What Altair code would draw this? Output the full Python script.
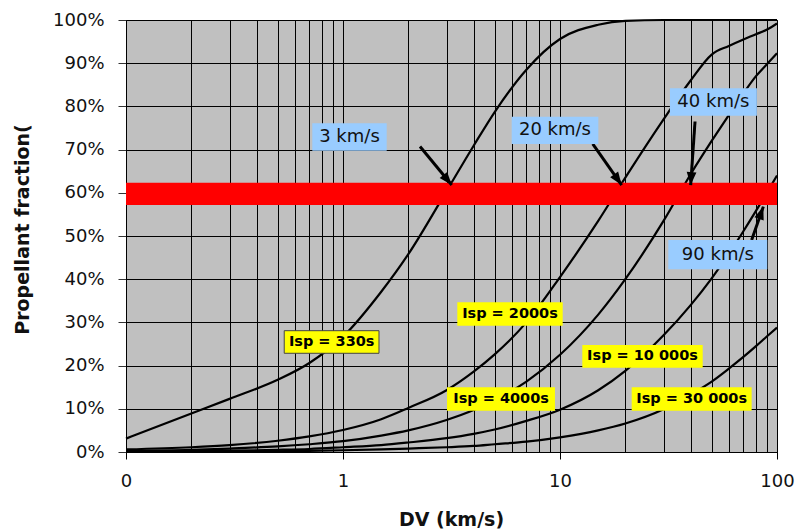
import altair as alt
import pandas as pd

# ---- data ----
DV = [0.1, 0.2, 0.3, 0.5, 0.7, 1, 1.5, 2, 3, 4, 5, 7, 10, 15, 20, 30, 40, 50, 60, 70, 80, 90, 100]
isp330 = [3.1, 8.9, 12.3, 16.7, 20.6, 26.7, 37.1, 45.8, 60.4, 70.9, 78.7, 88.5, 95.6, 98.9, 99.8, 100, 100, 100, 100, 100, 100, 100, 100]
isp2000 = [0.6, 1.1, 1.6, 2.6, 3.6, 5.1, 7.6, 10.2, 14.3, 18.6, 22.6, 30.0, 40.5, 53.5, 63.5, 77.0, 86.0, 92.0, 94.0, 95.5, 96.7, 97.8, 99.2]
isp4000 = [0.3, 0.5, 0.8, 1.3, 1.8, 2.5, 3.8, 5.0, 7.4, 9.7, 12.0, 16.3, 22.5, 31.8, 40.0, 53.5, 64.3, 72.0, 78.0, 83.0, 87.0, 89.8, 92.3]
isp10000 = [0.1, 0.2, 0.3, 0.5, 0.7, 1.1, 1.6, 2.2, 3.2, 4.2, 5.2, 7.2, 9.8, 14.3, 18.8, 27.0, 34.0, 40.2, 45.9, 51.1, 55.8, 60.1, 64.0]
isp30000 = [0.03, 0.07, 0.1, 0.17, 0.24, 0.4, 0.6, 0.8, 1.1, 1.4, 1.8, 2.4, 3.4, 5.0, 6.6, 9.9, 13.3, 16.3, 19.3, 22.0, 24.5, 26.8, 28.8]
series_names = ["330s", "2000s", "4000s", "10000s", "30000s"]

x_grid = [0.1, 0.2, 0.3, 0.4, 0.5, 0.6, 0.7, 0.8, 0.9, 1, 2, 3, 4, 5, 6, 7, 8, 9,
          10, 20, 30, 40, 50, 60, 70, 80, 90, 100]
y_ticks = [0, 10, 20, 30, 40, 50, 60, 70, 80, 90, 100]

# red target band (propellant fraction ~60 %)
band_lo, band_hi = 57.2, 62.3

# yellow Isp labels
isp_text = ["Isp = 330s", "Isp = 2000s", "Isp = 10 000s", "Isp = 4000s", "Isp = 30 000s"]
isp_xc = [0.887, 5.88, 24.0, 5.35, 40.45]
isp_yc = [25.46, 31.94, 22.15, 12.27, 12.27]
isp_x1 = [0.536, 3.363, 12.67, 3.015, 21.4]
isp_x2 = [1.465, 10.29, 45.46, 9.48, 76.4]
isp_y1 = [28.08, 34.65, 24.77, 14.98, 14.98]
isp_y2 = [22.85, 29.24, 19.51, 9.56, 9.56]
isp_border = [1, 0, 0, 0, 0]

# blue speed labels
v_text = ["3 km/s", "20 km/s", "40 km/s", "90 km/s"]
v_xc = [1.071, 9.48, 50.9, 53.4]
v_yc = [72.92, 74.47, 81.02, 45.67]
v_x1 = [0.722, 5.99, 32.1, 31.56]
v_x2 = [1.590, 15.02, 80.8, 90.2]
v_y1 = [76.09, 77.62, 84.19, 49.07]
v_y2 = [69.75, 71.30, 77.85, 42.29]

# arrows (start -> tip)
arr_x1 = [2.264, 14.15, 41.9, 76.4]
arr_y1 = [70.7, 71.3, 76.5, 49.1]
arr_x2 = [3.17, 19.24, 40.0, 86.5]
arr_y2 = [61.8, 61.8, 61.8, 56.8]
arr_angle = [140.4, 144.7, 184.0, 19.2]

# ---- tables ----
rows = []
for name, vals in zip(series_names, [isp330, isp2000, isp4000, isp10000, isp30000]):
    for d, v in zip(DV, vals):
        rows.append({"dv": d, "pct": v, "series": name})
curves_df = pd.DataFrame(rows)

band_df = pd.DataFrame({"dv": [0.1], "dv2": [100], "pct": [band_lo], "pct2": [band_hi]})
isp_df = pd.DataFrame({"text": isp_text, "dv": isp_x1, "dv2": isp_x2, "pct": isp_y1, "pct2": isp_y2,
                       "xc": isp_xc, "yc": isp_yc, "border": isp_border})
v_df = pd.DataFrame({"text": v_text, "dv": v_x1, "dv2": v_x2, "pct": v_y1, "pct2": v_y2,
                     "xc": v_xc, "yc": v_yc})
arr_df = pd.DataFrame({"dv": arr_x1, "pct": arr_y1, "dv2": arr_x2, "pct2": arr_y2, "angle": arr_angle})

FONT = "DejaVu Sans"
xscale = alt.Scale(type="log", domain=[0.1, 100], nice=False)
yscale = alt.Scale(domain=[0, 100], nice=False)

major_test = "datum.value == 0.1 || datum.value == 1 || datum.value == 10 || datum.value == 100"
x_axis = alt.Axis(
    values=x_grid, grid=True, gridColor="#000000", gridWidth=1, gridOpacity=1,
    tickColor="#000000", tickSize=7, tickWidth=1,
    tickOpacity={"condition": {"test": major_test, "value": 1}, "value": 0},
    labelExpr="datum.value == 0.1 ? '0' : datum.value == 1 ? '1' : datum.value == 10 ? '10' : datum.value == 100 ? '100' : ''",
    labelOverlap=False, labelFlush=False, labelFont=FONT, labelFontSize=18, labelColor="#111111",
    labelPadding=13, domainColor="#000000",
    title="DV (km/s)", titleFont=FONT, titleFontSize=19, titleFontWeight="bold", titleColor="#111111",
    titleX=325, titleY=67, titleBaseline="middle", titleAlign="center",
)
y_axis = alt.Axis(
    values=y_ticks, grid=True, gridColor="#000000", gridWidth=1, gridOpacity=1,
    tickColor="#333333", tickSize=8, labelExpr="datum.value + '%'",
    labelFont=FONT, labelFontSize=18, labelColor="#111111", labelPadding=14,
    domainColor="#000000",
    title="Propellant fraction(", titleFont=FONT, titleFontSize=19, titleFontWeight="bold",
    titleColor="#111111", titleX=-103.5, titleY=209, titleBaseline="middle", titleAlign="center",
    titleAngle=270,
)

curves = alt.Chart(curves_df).mark_line(color="#000000", strokeWidth=2.2, interpolate="monotone").encode(
    x=alt.X("dv:Q", scale=xscale, axis=x_axis),
    y=alt.Y("pct:Q", scale=yscale, axis=y_axis),
    detail="series:N",
    order="dv:Q",
)

band = alt.Chart(band_df).mark_rect(color="#FF0000").encode(
    x="dv:Q", x2="dv2:Q", y="pct:Q", y2="pct2:Q"
)

arrows = alt.Chart(arr_df).mark_rule(color="#000000", strokeWidth=3).encode(
    x="dv:Q", x2="dv2:Q", y="pct:Q", y2="pct2:Q"
)
heads = alt.Chart(arr_df).mark_point(
    shape="M0,0 L-0.75,2 L0.75,2 Z", size=169, filled=True, color="#000000", opacity=1
).encode(
    x="dv2:Q", y="pct2:Q", angle=alt.Angle("angle:Q", scale=None)
)

isp_box = alt.Chart(isp_df).mark_rect(color="#FFFF00").encode(
    x="dv:Q", x2="dv2:Q", y="pct:Q", y2="pct2:Q",
    stroke=alt.condition("datum.border == 1", alt.value("#444444"), alt.value(None)),
    strokeWidth=alt.value(1),
)
isp_lbl = alt.Chart(isp_df).mark_text(
    font=FONT, fontSize=14.5, fontWeight="bold", color="#000000", baseline="middle", align="center"
).encode(x="xc:Q", y="yc:Q", text="text:N")

v_box = alt.Chart(v_df).mark_rect(color="#99CCFF").encode(
    x="dv:Q", x2="dv2:Q", y="pct:Q", y2="pct2:Q"
)
v_lbl = alt.Chart(v_df).mark_text(
    font=FONT, fontSize=18, color="#111111", baseline="middle", align="center"
).encode(x="xc:Q", y="yc:Q", text="text:N")

chart = alt.layer(curves, band, arrows, heads, isp_box, isp_lbl, v_box, v_lbl).properties(
    width=651, height=432,
    autosize=alt.AutoSizeParams(type="none"),
    padding={"left": 126, "top": 20, "right": 18, "bottom": 79},
    background="#FFFFFF",
).configure_view(fill="#C0C0C0", stroke="#000000", strokeWidth=1)

chart.save("out.html", embed_options={"renderer": "svg", "actions": False})
